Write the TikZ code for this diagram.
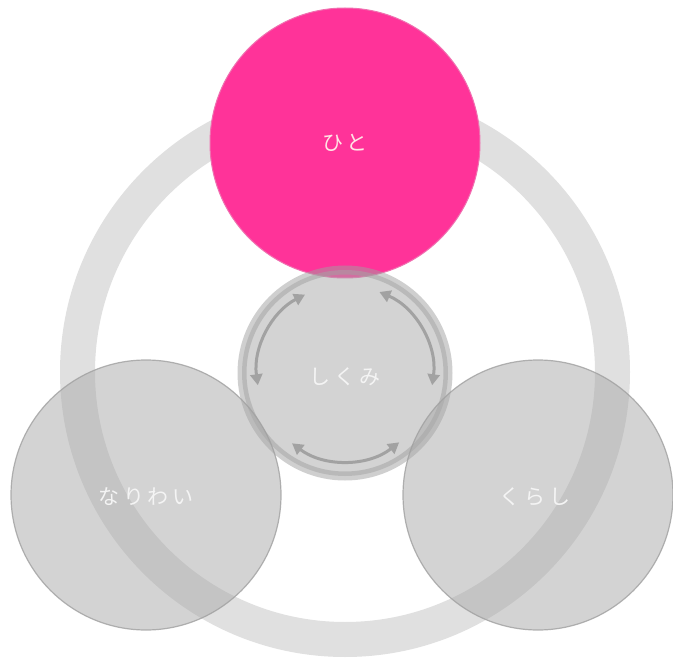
\documentclass[tikz,border=0pt]{standalone}
\usepackage{fontspec}
\newfontfamily\jp[LetterSpace=18]{Noto Sans CJK JP}
\usetikzlibrary{arrows.meta}
\definecolor{pinkc}{HTML}{FF3399}
\definecolor{pinkedge}{HTML}{F070B0}
\definecolor{ringc}{HTML}{E0E0E0}
\definecolor{circc}{HTML}{A9A9A9}
\definecolor{edgec}{HTML}{A0A0A0}
\definecolor{arrc}{HTML}{A2A2A2}
\definecolor{labc}{HTML}{F4F4F4}
\tikzset{
  x=1pt,y=-1pt,
  lab/.style={font=\jp\fontsize{21}{24}\selectfont, text=labc, inner sep=0pt},
  side/.style={circle, minimum size=270pt, inner sep=0pt, fill=circc, fill opacity=0.5, draw=edgec, draw opacity=0.8, line width=1.2pt, text opacity=1},
  cyc/.style={draw=arrc, line width=3pt, {Triangle[length=11pt,width=12pt]}-{Triangle[length=11pt,width=12pt]}}
}
\begin{document}
\begin{tikzpicture}
\useasboundingbox (0,0) rectangle (673,658);
\fill[white] (0,0) rectangle (673,658);
% big ring
\draw[ringc, line width=35pt] (345,372) circle[radius=267.5];
% top pink circle
\node[circle, minimum size=270pt, inner sep=0pt, fill=pinkc, draw=pinkedge, line width=1pt] (hito) at (345,143) {};
\node[lab, text=pink!40!white] at (hito) {ひと};
% center circle
\node[circle, minimum size=206pt, inner sep=0pt, fill=circc, fill opacity=0.5, draw=edgec, draw opacity=0.5, line width=9pt] (shikumi) at (345,373) {};
\node[lab] at ([yshift=-4pt]shikumi.center) {しくみ};
% cycle arrows
\draw[cyc] ([shift={(-117:88)}]shikumi.center) arc[start angle=-117, end angle=-188, radius=88];
\draw[cyc] ([shift={(-233:88)}]shikumi.center) arc[start angle=-233, end angle=-308, radius=88];
\draw[cyc] ([shift={(8:88)}]shikumi.center) arc[start angle=8, end angle=-67, radius=88];
% side circles
\node[side] (nariwai) at (146,495) {};
\node[lab] at ([yshift=-2pt]nariwai.center) {なりわい};
\node[side] (kurashi) at (538,495) {};
\node[lab] at ([xshift=-3pt,yshift=-2pt]kurashi.center) {くらし};
\end{tikzpicture}
\end{document}
